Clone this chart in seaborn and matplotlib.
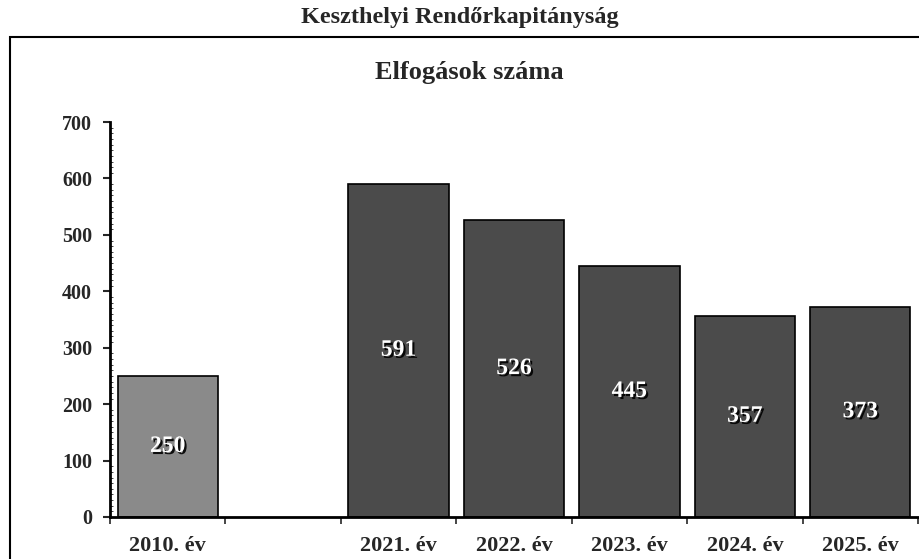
import pandas as pd
import seaborn as sns
import matplotlib.pyplot as plt
import matplotlib.patheffects as pe
from matplotlib.patches import Rectangle
from matplotlib.ticker import MultipleLocator, FixedLocator

# ============================================================
# DATA
# ============================================================

categories = ["2010. év", " ", "2021. év", "2022. év", "2023. év", "2024. év", "2025. év"]
years = ["2010. év", "2021. év", "2022. év", "2023. év", "2024. év", "2025. év"]
arrests = [250, 591, 526, 445, 357, 373]
bar_colors = {"2010. év": "#8a8a8a", "2021. év": "#4b4b4b", "2022. év": "#4b4b4b",
              "2023. év": "#4b4b4b", "2024. év": "#4b4b4b", "2025. év": "#4b4b4b"}

df = pd.DataFrame({"ev": years, "elfogas": arrests})

# ============================================================
# PLOT
# ============================================================

sns.set_style("white")
plt.rcParams['font.family'] = ['Liberation Serif', 'DejaVu Serif']
plt.rcParams['font.weight'] = 'bold'

fig = plt.figure(figsize=(9.2, 5.59), dpi=100)
ax = fig.add_axes([110 / 920, 1 - 517 / 559, 808 / 920, 395 / 559])

sns.barplot(data=df, x="ev", y="elfogas", hue="ev", order=categories,
            palette=bar_colors, width=0.87, edgecolor="black", linewidth=1.2,
            legend=False, ax=ax)

for cont in ax.containers:
    labels = ax.bar_label(cont, label_type="center", color="white",
                          fontsize=17, fontweight="bold")
    for t in labels:
        t.set_path_effects([pe.SimplePatchShadow(offset=(1.5, -1.5), shadow_rgbFace="black", alpha=0.9),
                            pe.Normal()])

ax.set_xlim(-0.5, len(categories) - 0.5)
ax.set_ylim(0, 700)
ax.yaxis.set_major_locator(MultipleLocator(100))
ax.yaxis.set_minor_locator(MultipleLocator(10))
ax.xaxis.set_minor_locator(FixedLocator([i - 0.5 for i in range(len(categories) + 1)]))

ax.tick_params(axis="y", which="major", direction="out", length=5, width=1.5, labelsize=14.5, pad=8, left=True)
ax.tick_params(axis="y", which="minor", direction="in", length=2, width=0.6, left=True)
ax.tick_params(axis="x", which="major", length=0, labelsize=16, pad=14)
ax.tick_params(axis="x", which="minor", direction="out", length=5, width=1.2, bottom=True)

for lab in ax.get_xticklabels() + ax.get_yticklabels():
    lab.set_fontweight("bold")

ax.set_xlabel("")
ax.set_ylabel("")
for s in ["top", "right"]:
    ax.spines[s].set_visible(False)
for s in ["left", "bottom"]:
    ax.spines[s].set_linewidth(2)
    ax.spines[s].set_color("black")

# outer frame
fig.patches.append(Rectangle((10 / 920, -0.05), 1.0, 1 - 37 / 559 + 0.05,
                             transform=fig.transFigure, fill=False,
                             edgecolor="black", linewidth=1.5))

fig.text(0.5, 1 - 18 / 559, "Keszthelyi Rendőrkapitányság", ha="center", va="center",
         fontsize=17.5, fontweight="bold")
fig.text(0.51, 1 - 72 / 559, "Elfogások száma", ha="center", va="center",
         fontsize=19, fontweight="bold")

fig.savefig("out.png", dpi=100)
